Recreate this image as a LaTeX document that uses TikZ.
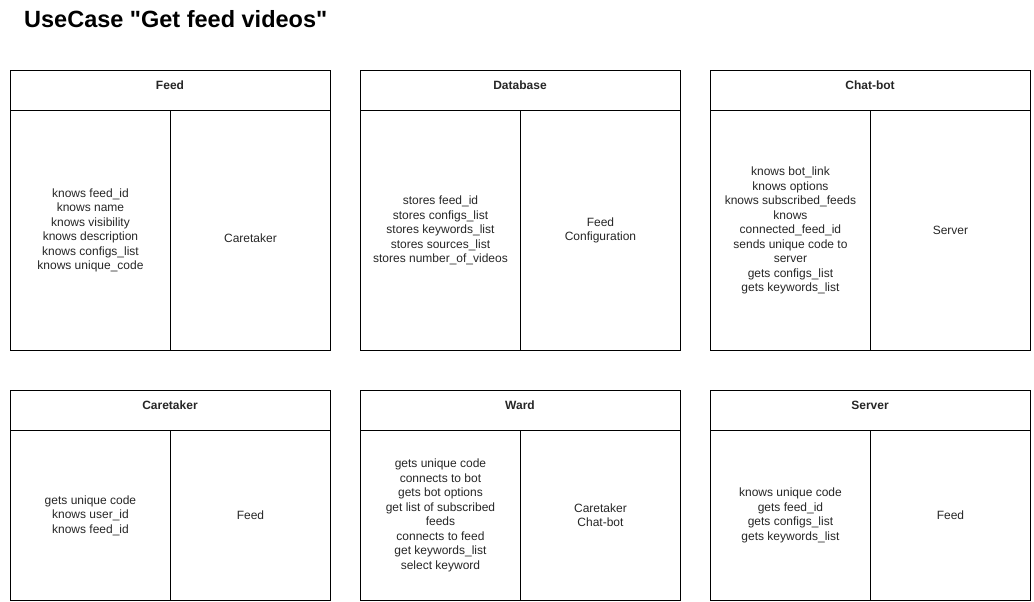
\documentclass[tikz,border=0pt]{standalone}
\usepackage{fontspec}
\setmainfont{Liberation Sans}[Ligatures=TeXOff]
\begin{document}
\begin{tikzpicture}[x=1pt,y=-1pt,
  cell/.style={draw=black,line width=0.9pt,rectangle,inner sep=0pt,anchor=north west,
    align=center,font=\fontsize{12}{14.5}\selectfont,text=black!85},
  headtext/.style={font=\fontsize{12}{14.5}\selectfont\bfseries,text=black!85,anchor=center,inner sep=0pt},
  titletext/.style={font=\fontsize{23.5}{27}\selectfont\bfseries,anchor=base west,inner sep=0pt}]
\useasboundingbox (0,0) rectangle (1034,602);
\node[titletext] (title) at (24,28) {UseCase "Get feed videos"};
% card macro
\newcommand{\mycard}[8]{%
  \node[cell,minimum width=320pt,minimum height=40pt] (#1h) at (#2,#3) {};
  \node[headtext] (#1t) at (#2+160,#3+15) {#5};
  \node[cell,minimum width=160pt,minimum height=#4pt] (#1l) at (#2,#3+40) {#6};
  \node[cell,minimum width=160pt,minimum height=#4pt,#8] (#1r) at (#2+160,#3+40) {#7};
}
\mycard{feed}{10}{70}{240}{Feed}{knows feed\_id\\knows name\\knows visibility\\knows description\\knows configs\_list\\knows unique\_code}{Caretaker}{text height=25pt}
\mycard{db}{360}{70}{240}{Database}{stores feed\_id\\stores configs\_list\\stores keywords\_list\\stores sources\_list\\stores number\_of\_videos}{Feed\\Configuration}{}
\mycard{bot}{710}{70}{240}{Chat-bot}{knows bot\_link\\knows options\\knows subscribed\_feeds\\knows\\connected\_feed\_id\\sends unique code to\\server\\gets configs\_list\\gets keywords\_list}{Server}{}
\mycard{care}{10}{390}{170}{Caretaker}{gets unique code\\knows user\_id\\knows feed\_id}{Feed}{}
\mycard{ward}{360}{390}{170}{Ward}{gets unique code\\connects to bot\\gets bot options\\get list of subscribed\\feeds\\connects to feed\\get keywords\_list\\select keyword}{Caretaker\\Chat-bot}{}
\mycard{srv}{710}{390}{170}{Server}{knows unique code\\gets feed\_id\\gets configs\_list\\gets keywords\_list}{Feed}{}
\end{tikzpicture}
\end{document}
